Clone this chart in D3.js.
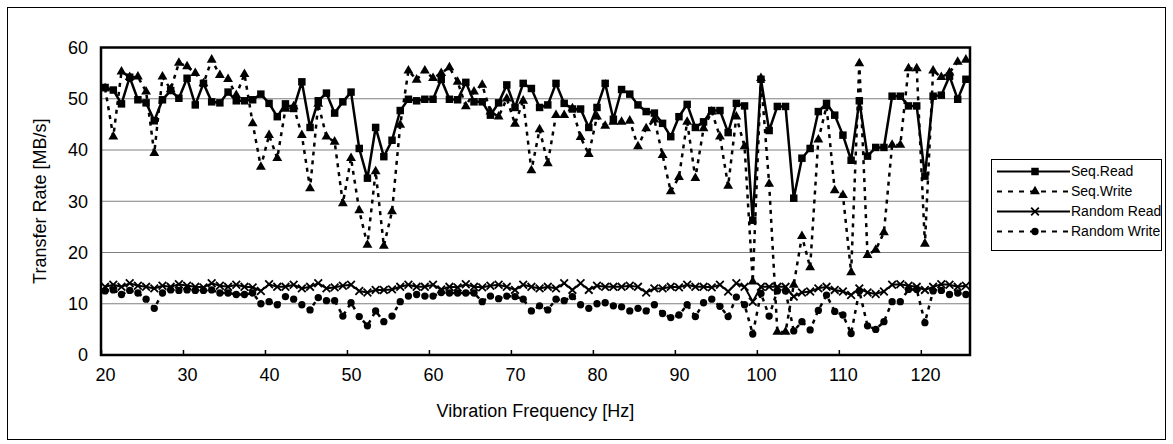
<!DOCTYPE html>
<html><head><meta charset="utf-8">
<script src="https://cdn.jsdelivr.net/npm/d3@7"></script>
<style>body{margin:0;background:#fff}svg{display:block}text{font-family:"Liberation Sans",Arial,sans-serif;fill:#000}</style>
</head><body><svg id="c" width="1173" height="444"></svg>
<script>
const freqs = d3.range(20, 126);
const seqRead = [52.2,51.7,49.0,54.2,49.8,49.2,45.7,49.8,51.6,50.1,
54.0,48.8,53.0,49.4,49.2,51.3,49.6,49.6,49.8,50.9,
49.1,46.5,49.0,48.1,53.3,44.4,49.6,51.1,47.2,49.4,
51.3,40.3,34.5,44.4,38.7,41.9,47.7,49.9,49.6,49.9,
49.9,53.8,49.9,49.8,53.2,49.4,49.4,46.8,49.2,52.7,
48.3,53.0,52.0,48.3,48.8,53.0,49.1,48.0,48.0,44.4,
48.3,53.0,46.0,51.8,50.9,48.8,47.5,47.2,45.2,42.6,
46.5,48.9,44.4,45.5,47.7,47.7,43.4,49.1,48.6,26.3,
53.8,43.8,48.5,48.5,30.6,38.4,40.3,47.5,49.1,46.8,
42.9,38.0,49.6,38.8,40.5,40.5,50.5,50.5,48.6,48.6,
34.9,50.5,50.7,54.4,49.9,53.8];
const seqWrite = [52.0,42.6,55.3,54.2,54.3,51.4,39.4,54.3,51.8,57.0,
56.3,55.0,53.0,57.6,54.6,53.8,50.7,54.8,45.2,36.7,
42.9,38.4,48.0,48.5,42.9,32.5,49.0,42.6,41.6,29.6,
38.4,28.2,21.5,35.8,21.3,28.0,44.9,55.5,53.7,55.5,
54.0,55.0,56.1,53.3,48.5,51.4,52.7,47.5,46.5,50.0,
45.1,49.6,36.0,44.0,37.4,46.8,46.8,48.1,42.5,39.2,
46.5,44.7,45.5,45.5,45.7,40.7,44.2,45.9,39.0,31.9,
34.7,45.5,34.5,44.2,47.5,42.6,33.0,46.5,40.7,14.3,
54.0,33.4,4.5,4.5,13.7,23.2,17.1,42.0,48.5,32.1,
31.2,16.1,56.9,19.5,20.5,23.9,41.0,41.0,55.9,55.9,
21.7,55.5,54.2,55.1,57.2,57.6];
const randomRead = [13.3,13.7,13.3,14.0,13.5,13.3,13.0,13.5,13.3,13.8,
13.5,13.3,13.2,14.0,13.5,13.3,13.7,13.3,13.2,12.5,
13.8,13.3,13.3,13.7,13.0,13.3,14.0,13.0,13.2,13.5,
13.7,12.5,12.2,12.7,12.7,12.8,13.3,13.7,13.3,13.3,
13.7,12.8,13.3,13.2,13.8,13.3,13.2,13.5,13.7,13.3,
12.7,13.7,13.3,13.0,13.3,13.0,14.0,12.7,14.0,12.7,
13.5,13.3,13.3,13.3,13.5,13.3,12.2,13.0,13.0,13.3,
13.2,13.7,13.3,13.3,13.2,13.7,12.4,14.0,13.3,10.4,
13.3,13.3,13.3,13.3,11.4,12.2,12.4,13.0,13.3,12.7,
12.4,11.7,13.0,12.2,11.9,12.4,13.7,13.8,13.5,13.3,
12.7,13.3,13.8,13.7,13.3,13.5];
const randomWrite = [12.5,12.7,11.8,12.6,12.1,10.9,9.1,12.1,12.7,12.6,
12.7,12.6,12.6,12.7,12.1,12.1,11.8,11.8,12.1,10.0,
10.4,9.8,11.4,10.9,9.8,8.8,11.2,10.6,10.6,7.6,
10.2,7.5,5.7,8.6,6.5,7.6,10.4,11.5,11.8,11.5,
11.5,12.2,12.1,12.1,12.1,12.1,10.4,11.5,11.0,11.5,
11.4,10.9,8.6,9.6,8.8,10.9,10.6,11.4,9.8,9.1,
10.0,10.2,9.6,9.4,8.6,9.1,8.6,9.8,8.1,7.3,
7.8,9.8,7.5,10.2,10.9,9.5,7.5,11.3,9.8,4.1,
12.0,7.6,12.5,12.5,4.7,6.5,4.9,8.7,11.7,8.5,
7.8,4.2,12.5,5.7,5.0,6.5,10.4,10.4,12.8,12.8,
6.3,12.5,12.6,11.8,12.1,11.8];
const xTicks = [20,30,40,50,60,70,80,90,100,110,120];
const yTicks = [0,10,20,30,40,50,60];
const seriesNames = ["Seq.Read","Seq.Write","Random Read","Random Write"];

const svg = d3.select("#c");
const L = 101, R = 970, T = 47.5, B = 355;
svg.append("rect").attr("x",7.5).attr("y",7.5).attr("width",1158).attr("height",432)
  .attr("fill","#fff").attr("stroke","#000").attr("stroke-width",1);

const x = d3.scaleBand().domain(freqs).range([L,R]).paddingInner(0).paddingOuter(0);
const xl = d3.scaleLinear().domain([20, 20 + freqs.length]).range([L,R]);
const y = d3.scaleLinear().domain([0,60]).range([B,T]);
const cx = f => x(f) + x.bandwidth()/2;

svg.append("g").selectAll("line").data(yTicks.filter(v=>v>0 && v<60)).join("line")
  .attr("x1",L).attr("x2",R).attr("y1",d=>y(d)).attr("y2",d=>y(d))
  .attr("stroke","#808080").attr("stroke-width",1);

const gx = svg.append("g").attr("transform",`translate(0,${B})`)
  .call(d3.axisBottom(xl).tickValues(xTicks).tickSize(-5).tickSizeOuter(0).tickPadding(13));
gx.select(".domain").remove();
gx.selectAll("line").attr("stroke","#000").attr("stroke-width",1.5);
gx.selectAll("text").attr("font-size",18).attr("dx", x.bandwidth()/2)
  .style("font-family",'"Liberation Sans",Arial,sans-serif');

const gy = svg.append("g").attr("transform",`translate(${L},0)`)
  .call(d3.axisLeft(y).tickValues(yTicks).tickSize(0).tickPadding(13));
gy.select(".domain").remove();
gy.selectAll("text").attr("font-size",18).style("font-family",'"Liberation Sans",Arial,sans-serif');

svg.append("rect").attr("x",L).attr("y",T).attr("width",R-L).attr("height",B-T)
  .attr("fill","none").attr("stroke","#000").attr("stroke-width",2.5);

svg.append("text").attr("x",(L+R)/2).attr("y",417).attr("text-anchor","middle")
  .attr("font-size",18).text("Vibration Frequency [Hz]");
svg.append("text").attr("transform",`translate(46,${(T+B)/2}) rotate(-90)`)
  .attr("text-anchor","middle").attr("font-size",18).text("Transfer Rate [MB/s]");

const sym = {
  square: d3.symbol().type(d3.symbolSquare).size(56),
  triangle: d3.symbol().type(d3.symbolTriangle).size(42),
  circle: d3.symbol().type(d3.symbolCircle).size(42),
  cross: d3.symbol().type(d3.symbolX).size(40)
};
const series = [
  {name:seriesNames[0], vals:seqRead, dash:null, w:2.5, m:"square"},
  {name:seriesNames[1], vals:seqWrite, dash:"4,5", w:2.5, m:"triangle"},
  {name:seriesNames[2], vals:randomRead, dash:null, w:2, m:"cross"},
  {name:seriesNames[3], vals:randomWrite, dash:"4,5", w:2.5, m:"circle"}
];
const line = d3.line().x((d,i)=>cx(freqs[i])).y(d=>y(d));
series.forEach(s=>{
  const g = svg.append("g");
  g.append("path").attr("d",line(s.vals)).attr("fill","none").attr("stroke","#000")
    .attr("stroke-width",s.w).attr("stroke-dasharray",s.dash);
  g.selectAll("path.m").data(s.vals).join("path").attr("class","m")
    .attr("transform",(d,i)=>`translate(${cx(freqs[i])},${y(d)})`)
    .attr("d",sym[s.m]()).attr("fill","#000")
    .attr("stroke",s.m==="cross"?"#000":"none").attr("stroke-width",s.m==="cross"?1.8:0);
});

const lg = svg.append("g");
lg.append("rect").attr("x",991.5).attr("y",159.5).attr("width",170).attr("height",91)
  .attr("fill","#fff").attr("stroke","#000").attr("stroke-width",1);
series.forEach((s,i)=>{
  const yy = 171.5 + i*20;
  lg.append("line").attr("x1",997).attr("x2",1070).attr("y1",yy).attr("y2",yy)
    .attr("stroke","#000").attr("stroke-width",2).attr("stroke-dasharray",s.dash?"5,6":null);
  lg.append("path").attr("transform",`translate(1035,${yy})`).attr("d",sym[s.m]())
    .attr("fill","#000").attr("stroke",s.m==="cross"?"#000":"none").attr("stroke-width",s.m==="cross"?1.8:0);
  lg.append("text").attr("x",1071).attr("y",yy).attr("dy","0.35em").attr("font-size",14).text(s.name);
});
</script></body></html>
